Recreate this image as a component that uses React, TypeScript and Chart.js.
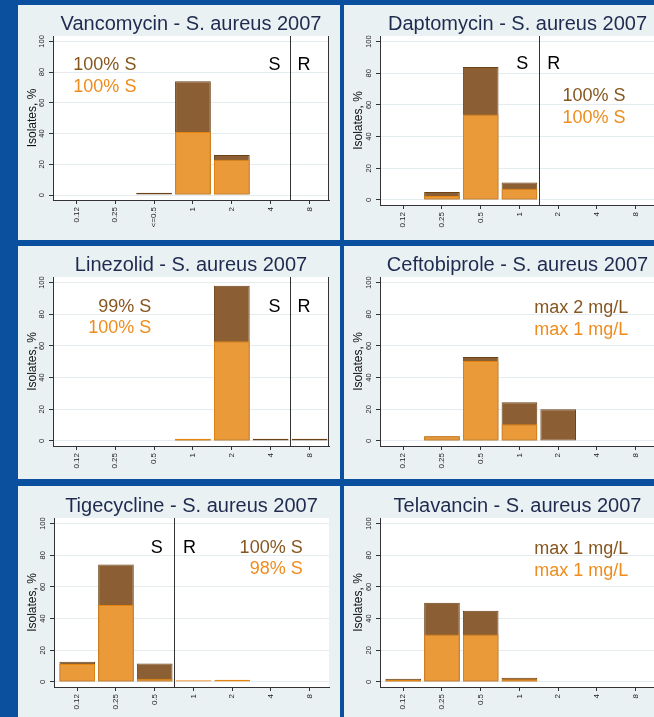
import React, { useEffect, useRef } from 'react';
import { Chart, registerables } from 'chart.js';

Chart.register(...registerables);

const FONT = "'Liberation Sans', Arial, Helvetica, sans-serif";

// ---- data ----
const vancoLabels = ['0.12', '0.25', '<=0.5', '1', '2', '4', '8'];
const micLabels = ['0.12', '0.25', '0.5', '1', '2', '4', '8'];
const yTickValues = [0, 20, 40, 60, 80, 100];

const vancoBrown = [0, 0, 1.5, 74, 26, 0, 0];
const vancoOrange = [0, 0, 0, 41, 23, 0, 0];
const daptoBrown = [0, 5, 84, 11, 0, 0, 0];
const daptoOrange = [0, 2.5, 54, 7, 0, 0, 0];
const linezolidBrown = [0, 0, 0, 1, 98, 1.3, 1.3];
const linezolidOrange = [0, 0, 0, 1.3, 63, 0, 0];
const ceftoBrown = [0, 3, 53, 24.5, 20, 0, 0];
const ceftoOrange = [0, 3, 50.5, 10.5, 0, 0, 0];
const tigeBrown = [12.8, 74.2, 11.6, 0, 0, 0, 0];
const tigeOrange = [11.3, 48.5, 2, 1, 1.4, 0, 0];
const telaBrown = [2, 50, 45, 2.7, 0, 0, 0];
const telaOrange = [1.2, 30, 30, 1.7, 0, 0, 0];

// ---- styles ----
const PAGE_BLUE = '#0a509e';
const PANEL_BG = '#eaf1f3';
const GRID = '#e4ecef';
const AXIS = '#333333';
const BROWN_FILL = '#8b5f33';
const BROWN_LINE = '#6b4216';
const ORANGE_FILL = '#eb9a3a';
const ORANGE_LINE = '#e5840f';
const BROWN_TEXT = '#87561f';
const ORANGE_TEXT = '#ef8c1c';
const TITLE_COLOR = '#1e2b4f';

type Note = { text: string; x: number; y: number; align: CanvasTextAlign; color: string };

type PanelSpec = {
  title: string;
  labels: string[];
  brown: number[];
  orange: number[];
  left: number;
  top: number;
  width: number;
  height: number;
  axisLeft: number;
  plotTop: number;
  plotBottom: number;
  plotRight: number;
  breakAt?: number;
  edge?: boolean;
  notes: Note[];
};

const panels: PanelSpec[] = [
  {
    title: 'Vancomycin - S. aureus 2007', labels: vancoLabels, brown: vancoBrown, orange: vancoOrange,
    left: 18, top: 5, width: 322, height: 235, axisLeft: 35, plotTop: 31, plotBottom: 195, plotRight: 311,
    breakAt: 5.5, edge: true,
    notes: [
      { text: '100% S', x: 1.545, y: 84.6, align: 'right', color: BROWN_TEXT },
      { text: '100% S', x: 1.545, y: 70.1, align: 'right', color: ORANGE_TEXT },
      { text: 'S', x: 5.25, y: 84.6, align: 'right', color: '#000' },
      { text: 'R', x: 5.69, y: 84.6, align: 'left', color: '#000' },
    ],
  },
  {
    title: 'Daptomycin - S. aureus 2007', labels: micLabels, brown: daptoBrown, orange: daptoOrange,
    left: 344, top: 5, width: 322, height: 235, axisLeft: 36, plotTop: 31, plotBottom: 200, plotRight: 311,
    breakAt: 3.5,
    notes: [
      { text: 'S', x: 3.23, y: 85.5, align: 'right', color: '#000' },
      { text: 'R', x: 3.72, y: 85.5, align: 'left', color: '#000' },
      { text: '100% S', x: 5.74, y: 65.8, align: 'right', color: BROWN_TEXT },
      { text: '100% S', x: 5.74, y: 51.9, align: 'right', color: ORANGE_TEXT },
    ],
  },
  {
    title: 'Linezolid - S. aureus 2007', labels: micLabels, brown: linezolidBrown, orange: linezolidOrange,
    left: 18, top: 246, width: 322, height: 233, axisLeft: 35, plotTop: 31, plotBottom: 200, plotRight: 311,
    breakAt: 5.5, edge: true,
    notes: [
      { text: '99% S', x: 1.93, y: 84.8, align: 'right', color: BROWN_TEXT },
      { text: '100% S', x: 1.93, y: 71.5, align: 'right', color: ORANGE_TEXT },
      { text: 'S', x: 5.25, y: 84.8, align: 'right', color: '#000' },
      { text: 'R', x: 5.69, y: 84.8, align: 'left', color: '#000' },
    ],
  },
  {
    title: 'Ceftobiprole - S. aureus 2007', labels: micLabels, brown: ceftoBrown, orange: ceftoOrange,
    left: 344, top: 246, width: 322, height: 233, axisLeft: 36, plotTop: 31, plotBottom: 200, plotRight: 311,
    notes: [
      { text: 'max 2 mg/L', x: 5.81, y: 84.2, align: 'right', color: BROWN_TEXT },
      { text: 'max 1 mg/L', x: 5.81, y: 70.3, align: 'right', color: ORANGE_TEXT },
    ],
  },
  {
    title: 'Tigecycline - S. aureus 2007', labels: micLabels, brown: tigeBrown, orange: tigeOrange,
    left: 18, top: 486, width: 322, height: 231, axisLeft: 36, plotTop: 32, plotBottom: 201, plotRight: 311,
    breakAt: 2.5,
    notes: [
      { text: 'S', x: 2.21, y: 84.3, align: 'right', color: '#000' },
      { text: 'R', x: 2.73, y: 84.3, align: 'left', color: '#000' },
      { text: '100% S', x: 5.82, y: 84.3, align: 'right', color: BROWN_TEXT },
      { text: '98% S', x: 5.82, y: 71, align: 'right', color: ORANGE_TEXT },
    ],
  },
  {
    title: 'Telavancin - S. aureus 2007', labels: micLabels, brown: telaBrown, orange: telaOrange,
    left: 344, top: 486, width: 322, height: 231, axisLeft: 36, plotTop: 32, plotBottom: 201, plotRight: 311,
    notes: [
      { text: 'max 1 mg/L', x: 5.81, y: 84, align: 'right', color: BROWN_TEXT },
      { text: 'max 1 mg/L', x: 5.81, y: 70, align: 'right', color: ORANGE_TEXT },
    ],
  },
];

function Panel({ spec }: { spec: PanelSpec }) {
  const ref = useRef<HTMLCanvasElement>(null);

  useEffect(() => {
    if (!ref.current) return;
    const decor = {
      id: 'decor',
      beforeDraw(chart: any) {
        const { ctx, chartArea, width, height } = chart;
        ctx.save();
        ctx.fillStyle = PANEL_BG;
        ctx.fillRect(0, 0, width, height);
        ctx.fillStyle = '#ffffff';
        ctx.fillRect(chartArea.left, chartArea.top, chartArea.right - chartArea.left, chartArea.bottom - chartArea.top);
        ctx.restore();
      },
      afterDatasetsDraw(chart: any) {
        const { ctx, chartArea, scales } = chart;
        const xs = scales.x;
        const ys = scales.y;
        ctx.save();
        ctx.strokeStyle = AXIS;
        ctx.lineWidth = 1;
        if (spec.breakAt !== undefined) {
          const px = Math.round(xs.getPixelForValue(spec.breakAt)) + 0.5;
          ctx.beginPath();
          ctx.moveTo(px, chartArea.top);
          ctx.lineTo(px, chartArea.bottom);
          ctx.stroke();
        }
        if (spec.edge) {
          const px = Math.round(chartArea.right) - 0.5;
          ctx.beginPath();
          ctx.moveTo(px, chartArea.top);
          ctx.lineTo(px, chartArea.bottom);
          ctx.stroke();
        }
        ctx.font = `18px ${FONT}`;
        ctx.textBaseline = 'middle';
        for (const n of spec.notes) {
          ctx.fillStyle = n.color;
          ctx.textAlign = n.align;
          ctx.fillText(n.text, xs.getPixelForValue(n.x), ys.getPixelForValue(n.y));
        }
        ctx.font = `20px ${FONT}`;
        ctx.fillStyle = TITLE_COLOR;
        ctx.textAlign = 'center';
        ctx.fillText(spec.title, (chartArea.left + chartArea.right) / 2, chartArea.top - 12);
        ctx.restore();
      },
    };

    const chart = new Chart(ref.current, {
      type: 'bar',
      data: {
        datasets: [
          {
            label: 'orange',
            data: spec.orange.map((v, i) => ({ x: i, y: v })),
            backgroundColor: ORANGE_FILL,
            borderColor: ORANGE_LINE,
            borderWidth: 1,
            borderSkipped: false,
            grouped: false,
            order: 0,
            barPercentage: 0.92,
            categoryPercentage: 1,
          } as any,
          {
            label: 'brown',
            data: spec.brown.map((v, i) => ({ x: i, y: v })),
            backgroundColor: BROWN_FILL,
            borderColor: BROWN_LINE,
            borderWidth: 1,
            borderSkipped: false,
            grouped: false,
            order: 1,
            barPercentage: 0.92,
            categoryPercentage: 1,
          } as any,
        ],
      },
      options: {
        animation: false,
        responsive: false,
        maintainAspectRatio: false,
        events: [],
        layout: {
          padding: { top: spec.plotTop, right: spec.width - spec.plotRight, left: 0, bottom: 0 },
        },
        plugins: {
          legend: { display: false },
          tooltip: { enabled: false },
          title: { display: false },
        },
        scales: {
          x: {
            type: 'linear',
            min: -0.6,
            max: 6.5,
            offset: false,
            afterBuildTicks: (s: any) => {
              s.ticks = spec.labels.map((_, i) => ({ value: i }));
            },
            afterFit: (s: any) => {
              s.height = spec.height - spec.plotBottom;
            },
            ticks: {
              autoSkip: false,
              minRotation: 90,
              maxRotation: 90,
              padding: 3,
              color: '#222',
              font: { family: FONT, size: 8 },
              callback: (v: any) => spec.labels[Math.round(Number(v))] ?? '',
            },
            grid: { display: true, drawOnChartArea: false, offset: false, tickLength: 4, tickColor: AXIS },
            border: { display: true, color: AXIS, width: 1 },
          } as any,
          y: {
            type: 'linear',
            min: -3.2,
            max: 103.5,
            afterBuildTicks: (s: any) => {
              s.ticks = yTickValues.map((v) => ({ value: v }));
            },
            afterFit: (s: any) => {
              s.width = spec.axisLeft;
            },
            ticks: {
              minRotation: 90,
              maxRotation: 90,
              crossAlign: 'center',
              padding: 1,
              color: '#222',
              font: { family: FONT, size: 7.5 },
            },
            grid: { color: GRID, tickColor: AXIS, tickLength: 4, lineWidth: 1 },
            border: { display: true, color: AXIS, width: 1 },
            title: {
              display: true,
              text: 'Isolates, %',
              color: '#111',
              font: { family: FONT, size: 12 },
              padding: { top: 7, bottom: 0 },
            },
          } as any,
        },
      },
      plugins: [decor],
    });
    return () => chart.destroy();
  }, [spec]);

  return (
    <div
      style={{
        position: 'absolute',
        left: spec.left,
        top: spec.top,
        width: spec.width,
        height: spec.height,
        overflow: 'hidden',
      }}
    >
      <canvas
        ref={ref}
        width={spec.width}
        height={spec.height}
        style={{ display: 'block', width: spec.width, height: spec.height }}
      />
    </div>
  );
}

export default function App() {
  return (
    <div
      style={{
        position: 'fixed',
        left: 0,
        top: 0,
        width: 654,
        height: 717,
        background: PAGE_BLUE,
        overflow: 'hidden',
      }}
    >
      {panels.map((p, i) => (
        <Panel key={i} spec={p} />
      ))}
    </div>
  );
}
